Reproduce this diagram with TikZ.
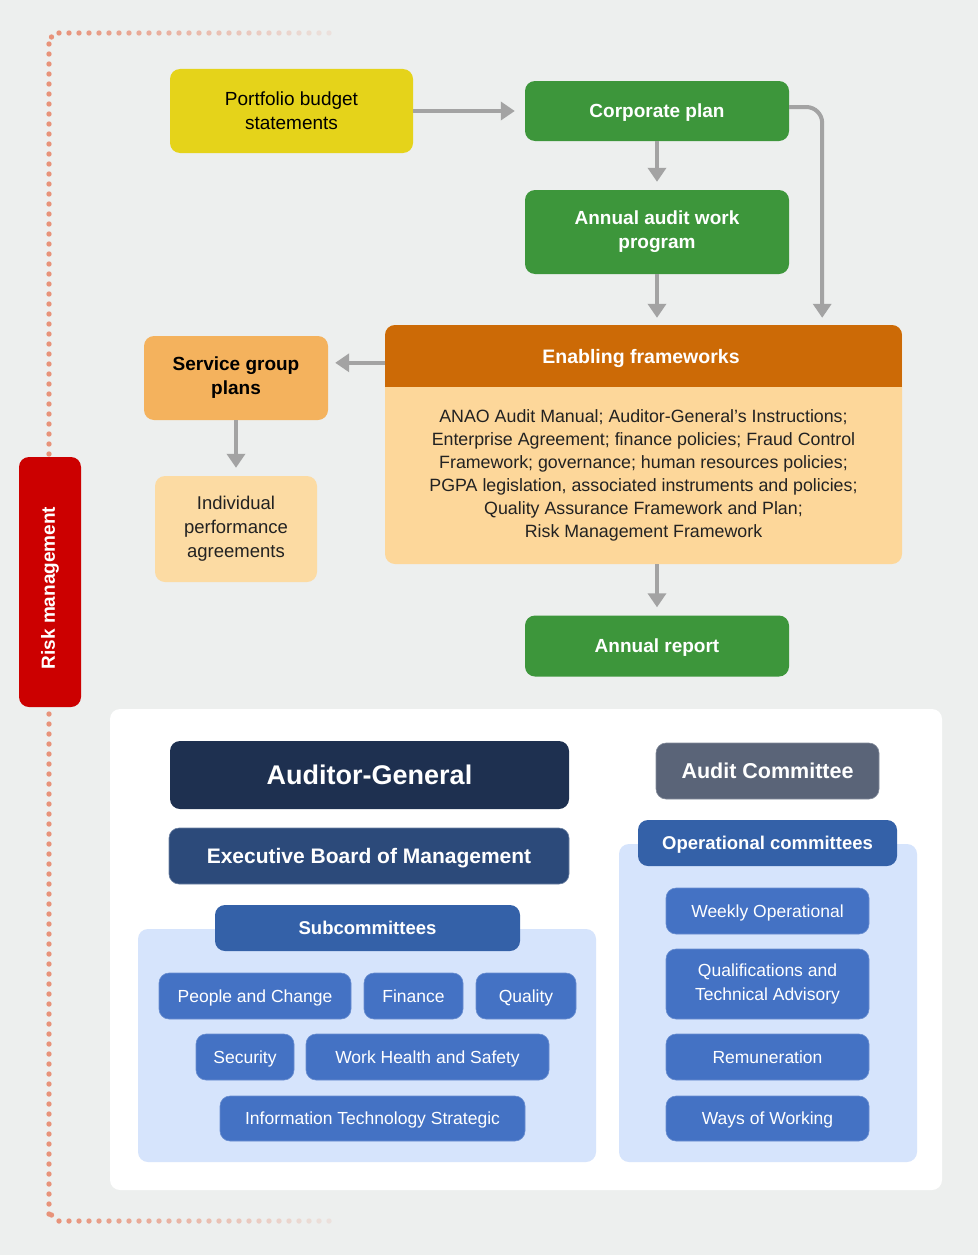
\documentclass[tikz,border=0pt]{standalone}
\usepackage{fontspec}
\setmainfont{Liberation Sans}
\usetikzlibrary{arrows.meta,calc}
\definecolor{bg}{HTML}{EDEFEE}
\definecolor{yel}{HTML}{E5D31A}
\definecolor{grn}{HTML}{3D963B}
\definecolor{orgH}{HTML}{CC6A06}
\definecolor{orgB}{HTML}{FDD79A}
\definecolor{orgS}{HTML}{F4B25D}
\definecolor{orgI}{HTML}{FCDBA3}
\definecolor{rsk}{HTML}{CC0000}
\definecolor{dotc}{HTML}{E8937A}
\definecolor{navy}{HTML}{1E3050}
\definecolor{ebm}{HTML}{2C4A7A}
\definecolor{acm}{HTML}{5A6478}
\definecolor{hdrb}{HTML}{3461A8}
\definecolor{boxb}{HTML}{4472C4}
\definecolor{panb}{HTML}{D6E4FC}
\definecolor{arrg}{HTML}{A3A3A3}
\definecolor{txtd}{HTML}{222222}
\tikzset{
  box/.style={rounded corners=10pt, inner sep=0pt, align=center},
  sl/.code={\pgfmathsetmacro\slh{0.72*#1}\pgfmathsetmacro\sld{0.02*#1}\tikzset{text height=\slh pt, text depth=\sld pt}},
  gbox/.style={box, fill=grn, text=white, font=\fontsize{19}{24}\selectfont\bfseries},
  bbox/.style={box, sl=17.5, fill=boxb, draw=boxb!80!white, line width=0.6pt, text=white, minimum height=46pt, font=\fontsize{17.5}{22}\selectfont},
  hbox/.style={box, sl=18.5, fill=hdrb, text=white, minimum height=46pt, font=\fontsize{18.5}{22}\selectfont\bfseries},
  arr/.style={draw=arrg, line width=4pt, -{Triangle[width=18pt,length=14pt]}},
}
\begin{document}
\begin{tikzpicture}[x=1pt,y=-1pt]
\useasboundingbox (0,0) rectangle (978,1255);
\fill[bg] (0,0) rectangle (978,1255);

% dotted risk loop
\foreach \yy in {44,54,...,1214} \fill[dotc] (49,\yy) circle (2.7);
\fill[dotc] (51.5,37) circle (2.7);
\fill[dotc] (51.5,1215) circle (2.7);
\foreach \xx in {59,69,...,330} {
  \pgfmathsetmacro{\op}{1-0.85*(\xx-59)/271}
  \fill[dotc, opacity=\op] (\xx,33) circle (2.7);
  \fill[dotc, opacity=\op] (\xx,1221) circle (2.7);
}

% top flow
\node[box, fill=yel, minimum width=243pt, minimum height=84pt, font=\fontsize{19}{24}\selectfont, text=black] (pbs) at (291.5,111) {Portfolio budget\\statements};
\node[gbox, sl=19, minimum width=264pt, minimum height=60pt] (corp) at (657,111) {Corporate plan};
\node[gbox, minimum width=264pt, minimum height=84pt] (aawp) at (657,232) {Annual audit work\\program};
\node[box, fill=orgB, minimum width=517pt, minimum height=239pt] (enab) at (643.5,444.5) {};
\begin{scope}
  \clip[rounded corners=10pt] (385,325) rectangle (902,564);
  \fill[orgH] (385,325) rectangle (902,387);
\end{scope}
\node[sl=19.5, text=white, font=\fontsize{19.5}{24}\selectfont\bfseries] (enabt) at (641,357) {Enabling frameworks};
\node[align=center, text=txtd, font=\fontsize{17.8}{23}\selectfont] (enabb) at (643.5,475) {ANAO Audit Manual; Auditor-General’s Instructions;\\Enterprise Agreement; finance policies; Fraud Control\\Framework; governance; human resources policies;\\PGPA legislation, associated instruments and policies;\\Quality Assurance Framework and Plan;\\Risk Management Framework};
\node[box, fill=orgS, minimum width=184pt, minimum height=84pt, text=black, font=\fontsize{19}{24}\selectfont\bfseries] (sgp) at (236,378) {Service group\\plans};
\node[box, fill=orgI, minimum width=162pt, minimum height=106pt, text=txtd, font=\fontsize{18.5}{24}\selectfont] (ipa) at (236,529) {Individual\\performance\\agreements};
\node[gbox, sl=19, minimum width=264pt, minimum height=61pt] (ar) at (657,646) {Annual report};

\node[box, fill=rsk, minimum width=62pt, minimum height=250pt] (risk) at (50,582) {};
\node[rotate=90, text=white, font=\fontsize{19}{24}\selectfont\bfseries] (riskt) at (50,588) {Risk management};

% arrows
\draw[arr, shorten >=10pt] (pbs.east) -- (corp.west);
\draw[arr, shorten >=8pt] (corp.south) -- (aawp.north);
\draw[arr, shorten >=7pt] (aawp.south) -- (aawp.south |- enab.north);
\coordinate (ct) at ([xshift=-80pt]enab.north east);
\coordinate (cs) at ([yshift=4pt]corp.east);
\draw[arr, rounded corners=16pt, shorten >=7pt] (cs) -| (ct);
\coordinate (ef) at ([yshift=-38pt]enab.north west);
\draw[arr, shorten >=7pt] (ef) -- (ef -| sgp.east);
\draw[arr, shorten >=8pt] (sgp.south) -- (ipa.north);
\draw[arr, shorten >=8pt] (ar.north |- enab.south) -- (ar.north);

% governance panel
\node[box, fill=white, minimum width=832pt, minimum height=481pt] (gov) at (526,949.5) {};
\node[box, sl=27, fill=navy, minimum width=399pt, minimum height=68pt, text=white, font=\fontsize{27}{30}\selectfont\bfseries] (ag) at (369.5,775) {Auditor-General};
\node[box, sl=21, fill=ebm, draw=ebm!70!white, line width=0.6pt, minimum width=400pt, minimum height=56pt, text=white, font=\fontsize{21}{26}\selectfont\bfseries] (eb) at (369,856) {Executive Board of Management};

\node[box, fill=panb, minimum width=458pt, minimum height=233pt] (subp) at (367,1045.5) {};
\node[hbox, minimum width=305pt] (subh) at (367.5,928) {Subcommittees};
\node[bbox, minimum width=192pt] (pc) at (255,996) {People and Change};
\node[bbox, minimum width=99pt] (fin) at (413.5,996) {Finance};
\node[bbox, minimum width=100pt] (qual) at (526,996) {Quality};
\node[bbox, minimum width=98pt] (sec) at (245,1057) {Security};
\node[bbox, minimum width=243pt] (whs) at (427.5,1057) {Work Health and Safety};
\node[bbox, minimum width=305pt, minimum height=45pt] (its) at (372.5,1118.5) {Information Technology Strategic};

\node[box, sl=21.5, fill=acm, draw=acm!75!white, line width=0.6pt, minimum width=223pt, minimum height=56pt, text=white, font=\fontsize{21.5}{26}\selectfont\bfseries] (ac) at (767.5,771) {Audit Committee};
\node[box, fill=panb, minimum width=298pt, minimum height=318pt] (opp) at (768,1003) {};
\node[hbox, minimum width=259pt] (oph) at (767.5,843) {Operational committees};
\node[bbox, minimum width=203pt] (wo) at (767.5,911) {Weekly Operational};
\node[box, fill=boxb, draw=boxb!80!white, line width=0.6pt, text=white, minimum width=203pt, minimum height=70pt, font=\fontsize{17.5}{24}\selectfont] (qta) at (767.5,984) {Qualifications and\\Technical Advisory};
\node[bbox, minimum width=203pt] (rem) at (767.5,1057) {Remuneration};
\node[bbox, minimum width=203pt, minimum height=45pt] (wow) at (767.5,1118.5) {Ways of Working};
\end{tikzpicture}
\end{document}
